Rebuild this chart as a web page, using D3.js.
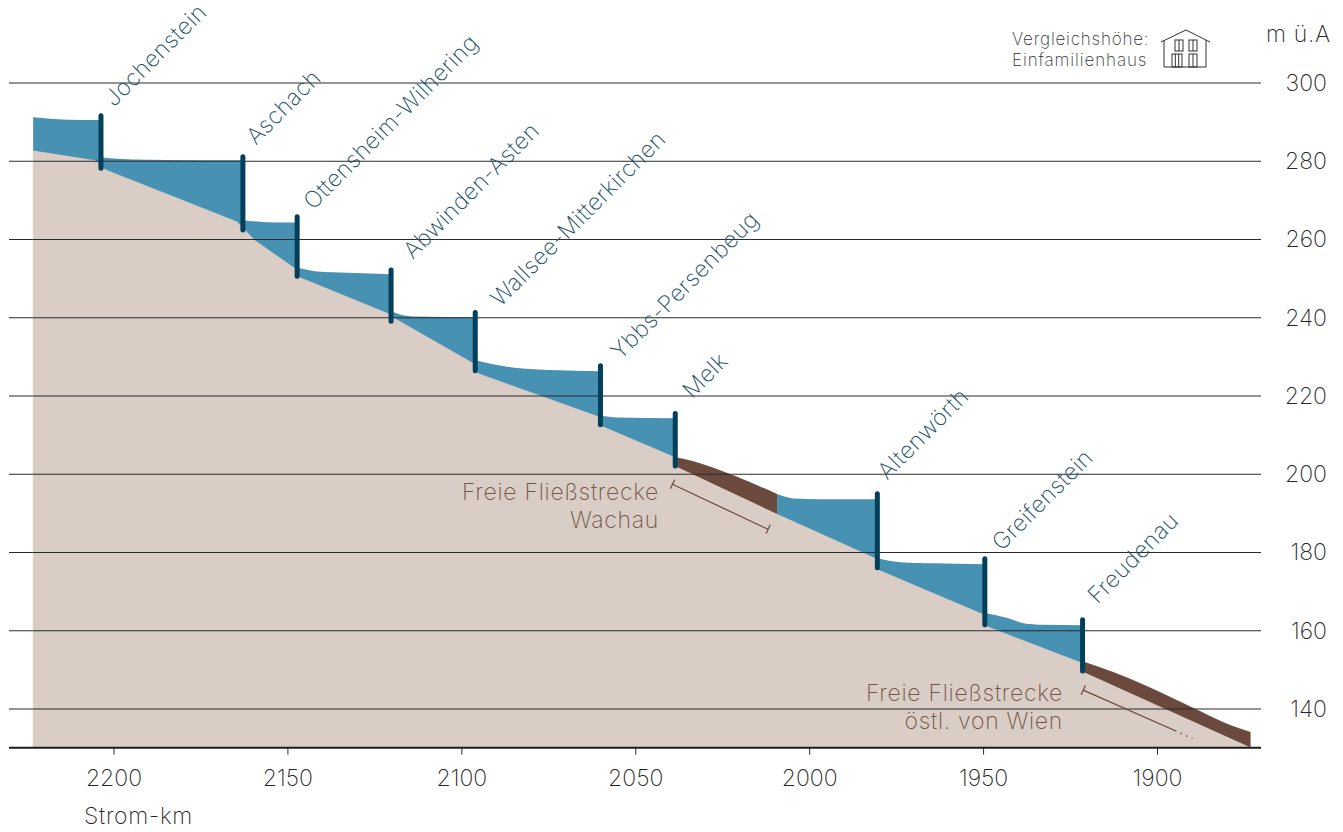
<!DOCTYPE html>
<html>
<head>
<meta charset="utf-8">
<script src="https://cdn.jsdelivr.net/npm/d3@7"></script>
<style>
  html, body { margin: 0; padding: 0; background: #fff; overflow: hidden; }
  text { font-family: Inter, "Noto Sans", sans-serif; font-weight: 250; }
</style>
</head>
<body>
<svg id="chart" width="1343" height="832"></svg>
<script>
// river bed, [Strom-km, m ue.A.]
const bedProfile = [[2223.2,282.6],[2205.3,280.1],[2203.6,279.3],[2202.5,277.8],[2164.5,264.5],[2159.3,259.7],[2147.8,252.5],[2147.2,252.5],[2146.4,250.2],[2120.2,240.7],[2119.6,240.0],[2096.0,228.0],[2095.2,225.7],[2060.7,214.7],[2059.2,212.1],[2038.5,204.2],[2037.9,201.7],[2009.2,189.7],[1980.4,178.2],[1980.4,175.6],[1949.9,164.1],[1948.8,161.0],[1921.4,151.6],[1921.1,149.3],[1872.9,130]];

// water surface of each impounded reach
const waterReaches = [
  [[2223.1,291.1],[2213.4,290.5],[2203.6,290.4]],
  [[2203.6,280.8],[2194.4,280.3],[2184.6,280.2],[2162.8,280.1]],
  [[2162.8,264.8],[2155.9,264.3],[2147.2,264.2]],
  [[2147.2,252.7],[2141.5,251.7],[2136.9,251.5],[2120.2,251.0]],
  [[2120.2,241.5],[2113.9,240.2],[2096.0,240.0]],
  [[2096.0,229.0],[2090.9,228.0],[2084.0,227.0],[2074.5,226.5],[2060.0,226.2]],
  [[2060.0,214.9],[2055.2,214.4],[2038.5,214.2]],
  [[2009.2,194.8],[2004.6,193.7],[1997.0,193.5],[1980.4,193.5]],
  [[1980.4,178.4],[1973.8,177.4],[1964.3,177.1],[1949.5,176.9]],
  [[1949.5,164.4],[1943.0,163.1],[1938.4,161.8],[1932.7,161.4],[1921.4,161.3]]
];

// free flowing stretches
const freeReaches = [
  [[2038.5,204.2],[2033.3,203.2],[2025.6,200.9],[2016.9,197.8],[2009.2,194.8]],
  [[1921.4,152.1],[1912.6,149.3],[1902.8,145.7],[1889.5,140.1],[1880.9,136.5],[1873.1,134.0]]
];

const damNames = ["Jochenstein","Aschach","Ottensheim-Wilhering","Abwinden-Asten","Wallsee-Mitterkirchen","Ybbs-Persenbeug","Melk","Altenwörth","Greifenstein","Freudenau"];
const damKm = [2203.6,2162.8,2147.2,2120.2,2096.0,2060.0,2038.5,1980.4,1949.5,1921.4];
const damTop = [291.5,281.0,265.7,252.1,241.2,227.6,215.4,194.9,178.3,162.7];
const damBottom = [278.1,262.3,250.5,239.0,226.3,212.5,202.0,176.0,161.4,149.6];

const kmTicks = [2200,2150,2100,2050,2000,1950,1900];
const heightTicks = [300,280,260,240,220,200,180,160,140];

const wachauSpan = [[2039.3,197.3],[2011.8,185.8]];
const wienSpan = [[1921.2,144.7],[1894.4,134.2]];
const wienDots = [[1893.3,133.7],[1889.8,132.3]];

const svg = d3.select("#chart");

const x = d3.scaleLinear().domain([2200,1900]).range([113.5,1157]);
const y = d3.scaleLinear().domain([300,140]).range([82.5,708.5]);
const floor = 130;

const colWater = "#4791b2", colBed = "#d9cdc6", colFree = "#6b493d", colDam = "#023f5a", colName = "#1c5069", colNote = "#735549", colText = "#262626";
const labelSize = 23;

const area = d3.area().x(d => x(d[0])).y0(y(floor)).y1(d => y(d[1]));
const smoothArea = d3.area().x(d => x(d[0])).y0(y(floor)).y1(d => y(d[1])).curve(d3.curveMonotoneX);

// water goes all the way down, the bed is painted over it
svg.append("g").selectAll("path").data(waterReaches).enter().append("path")
    .attr("d", smoothArea).attr("fill", colWater);
svg.append("g").selectAll("path").data(freeReaches).enter().append("path")
    .attr("d", smoothArea).attr("fill", colFree);
svg.append("path").attr("d", area(bedProfile)).attr("fill", colBed);

// axes
const yAxis = svg.append("g").attr("transform", "translate(1261,0)")
    .call(d3.axisRight(y).tickValues(heightTicks).tickSize(-1252));
yAxis.select(".domain").remove();
yAxis.selectAll("line").attr("stroke", "#2b2b2b").attr("stroke-width", 1);
yAxis.selectAll("text").attr("x", 66).attr("text-anchor", "end").attr("dy", "0.34em")
    .attr("font-size", labelSize).attr("fill", colText)
    .style("font-family", "Inter").style("font-weight", 250);

const xAxis = svg.append("g").attr("transform", `translate(0,${y(floor)})`)
    .call(d3.axisBottom(x).tickValues(kmTicks).tickSize(7).tickFormat(d3.format("d")));
xAxis.select(".domain").remove();
xAxis.selectAll("line").attr("stroke", "#2b2b2b").attr("stroke-width", 1);
xAxis.selectAll("text").attr("y", 22).attr("dy", "0.71em")
    .attr("font-size", labelSize).attr("fill", colText)
    .style("font-family", "Inter").style("font-weight", 250);

svg.append("line").attr("x1", 9).attr("x2", 1261).attr("y1", y(floor)).attr("y2", y(floor))
    .attr("stroke", "#1c1c1c").attr("stroke-width", 2);

svg.append("text").attr("x", 84).attr("y", 824).attr("font-size", labelSize).attr("letter-spacing", 0.7).attr("fill", colText).text("Strom-km");

// the unit label runs off the picture in the original
svg.append("clipPath").attr("id", "unitClip").append("rect").attr("x", 1260).attr("y", 0).attr("width", 71).attr("height", 60);
svg.append("text").attr("x", 1266).attr("y", 42).attr("font-size", labelSize).attr("letter-spacing", 0.7)
    .attr("fill", colText).attr("clip-path", "url(#unitClip)").text("m ü.A.");

// dams
svg.append("g").selectAll("line").data(damKm).enter().append("line")
    .attr("x1", d => x(d)).attr("x2", d => x(d))
    .attr("y1", (d, i) => y(damTop[i])).attr("y2", (d, i) => y(damBottom[i]))
    .attr("stroke", colDam).attr("stroke-width", 5).attr("stroke-linecap", "round");

// hand placed, the labels do not sit at one fixed distance from the dams
const labelNudge = [[-2,0],[-2,-3],[1,2],[7,-2],[10,3],[5,3],[2,-6],[-5,-5],[2,1],[0,-7]];
svg.append("g").selectAll("text").data(damNames).enter().append("text")
    .attr("transform", (d, i) => `translate(${x(damKm[i]) + 15 + labelNudge[i][0]},${y(damTop[i]) - 8 + labelNudge[i][1]}) rotate(-45)`)
    .attr("font-size", labelSize).attr("letter-spacing", 0.4).attr("fill", colName).text(d => d);

// annotations
const note = (lines, xr, y0) => lines.forEach((t, i) => {
    svg.append("text").attr("x", xr).attr("y", y0 + i * 28).attr("text-anchor", "end")
        .attr("font-size", labelSize).attr("letter-spacing", 0.7).attr("fill", colNote).text(t);
});
note(["Freie Fließstrecke", "Wachau"], 659, 500);
note(["Freie Fließstrecke", "östl. von Wien"], 1063, 701);

const line = d3.line().x(d => x(d[0])).y(d => y(d[1]));
const cap = (p, a) => {
    const nx = Math.sin(a) * 5, ny = Math.cos(a) * 5;
    svg.append("line").attr("x1", x(p[0]) - nx).attr("x2", x(p[0]) + nx)
        .attr("y1", y(p[1]) + ny * -1).attr("y2", y(p[1]) + ny)
        .attr("stroke", colFree).attr("stroke-width", 1.2);
};
const slope = Math.atan2(47, 99);
svg.append("path").attr("d", line(wachauSpan)).attr("fill", "none").attr("stroke", colFree).attr("stroke-width", 1.2);
cap(wachauSpan[0], -slope); cap(wachauSpan[1], -slope);
svg.append("path").attr("d", line(wienSpan)).attr("fill", "none").attr("stroke", colFree).attr("stroke-width", 1.2);
cap(wienSpan[0], -slope);
svg.append("path").attr("d", line(wienDots)).attr("fill", "none").attr("stroke", colFree)
    .attr("stroke-width", 1.5).attr("stroke-dasharray", "1.5 4.8");

// legend
const legend = svg.append("g").attr("fill", "#333").attr("font-size", 17);
legend.append("text").attr("x", 1012).attr("y", 45).attr("letter-spacing", 0.8).text("Vergleichshöhe:");
legend.append("text").attr("x", 1012).attr("y", 66).attr("letter-spacing", 0.9).text("Einfamilienhaus");

const house = svg.append("g").attr("transform", "translate(1161,29)")
    .attr("fill", "none").attr("stroke", "#333").attr("stroke-width", 1);
house.append("path").attr("d", "M0,13 L25,1 L49,13");
house.append("path").attr("d", "M3,11 V38 H45 V11");
[[14,11,8,11,1],[28,11,8,11,1],[11,25,10,13,2],[28,25,8,13,1]].forEach(([wx, wy, ww, wh, bars]) => {
    house.append("rect").attr("x", wx).attr("y", wy).attr("width", ww).attr("height", wh);
    d3.range(1, bars + 1).forEach(b => {
        const lx = wx + ww * b / (bars + 1);
        house.append("line").attr("x1", lx).attr("x2", lx).attr("y1", wy).attr("y2", wy + wh);
    });
});
</script>
</body>
</html>
